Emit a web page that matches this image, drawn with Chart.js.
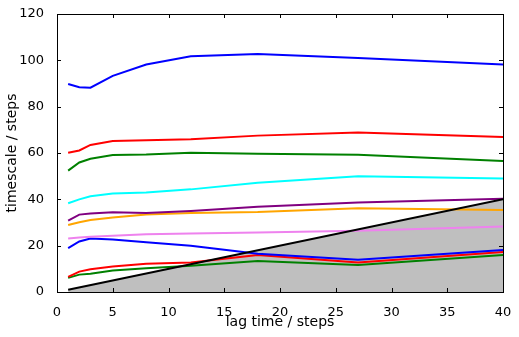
<!DOCTYPE html>
<html><head><meta charset="utf-8">
<script src="https://cdn.jsdelivr.net/npm/chart.js@4/dist/chart.umd.min.js"></script>
<style>html,body{margin:0;padding:0;background:#fff}#wrap{width:519px;height:337px}</style>
</head><body><div id="wrap"><canvas id="c" width="519" height="337"></canvas></div>
<script>
const lagTimes = [1, 2, 3, 5, 8, 12, 18, 27, 40];
const blueTop   = [89.8, 88.4, 88.2, 93.3, 98.2, 101.8, 102.7, 101.0, 98.2];
const redTop    = [60.1, 61.1, 63.5, 65.2, 65.5, 65.9, 67.5, 68.9, 66.9];
const greenTop  = [52.4, 55.9, 57.5, 59.1, 59.3, 60.1, 59.7, 59.2, 56.5];
const cyanLine  = [38.3, 40.0, 41.3, 42.5, 43.0, 44.3, 47.2, 50.0, 49.0];
const purpleLine= [30.8, 33.4, 33.9, 34.4, 34.1, 35.0, 36.8, 38.6, 40.2];
const orangeLine= [28.9, 30.1, 31.1, 32.2, 33.5, 34.1, 34.5, 36.1, 35.4];
const violetLine= [23.1, 23.5, 23.8, 24.3, 24.9, 25.2, 25.7, 26.4, 28.3];
const blueLow   = [18.9, 21.8, 23.1, 22.7, 21.5, 20.0, 16.5, 13.9, 18.1];
const redLow    = [6.5, 8.8, 9.8, 11.0, 12.2, 12.7, 16.0, 12.7, 17.3];
const greenLow  = [6.1, 7.5, 7.9, 9.3, 10.3, 11.3, 13.4, 11.7, 16.0];
const diagonal  = [1, 40];
const xTicks = [0, 5, 10, 15, 20, 25, 30, 35, 40];
const yTicks = [0, 20, 40, 60, 80, 100, 120];

const pts = (ys, xs) => ys.map((y, i) => ({x: (xs || lagTimes)[i], y}));
const line = (ys, color, xs) => ({data: pts(ys, xs), borderColor: color, borderWidth: 2, pointRadius: 0, fill: false, tension: 0});

const datasets = [
  line(diagonal, '#000000', diagonal),
  line(blueTop, '#0000ff'),
  line(redTop, '#ff0000'),
  line(greenTop, '#008000'),
  line(cyanLine, '#00ffff'),
  line(purpleLine, '#800080'),
  line(orangeLine, '#ffa500'),
  line(violetLine, '#ee82ee'),
  line(blueLow, '#0000ff'),
  line(redLow, '#ff0000'),
  line(greenLow, '#008000'),
  {data: pts(diagonal, diagonal), borderWidth: 0, borderColor: 'rgba(0,0,0,0)', backgroundColor: '#bfbfbf', pointRadius: 0, fill: 'origin'}
];

const frameTicks = {
  id: 'frameTicks',
  afterDraw(chart) {
    const {ctx, chartArea: a, scales: {x, y}} = chart;
    ctx.save();
    ctx.strokeStyle = '#000';
    ctx.lineWidth = 1;
    const L = 4;
    ctx.beginPath();
    xTicks.forEach(v => {
      const px = Math.round(x.getPixelForValue(v)) + 0.5;
      ctx.moveTo(px, a.bottom); ctx.lineTo(px, a.bottom - L);
      ctx.moveTo(px, a.top); ctx.lineTo(px, a.top + L);
    });
    yTicks.forEach(v => {
      const py = Math.round(y.getPixelForValue(v)) + 0.5;
      ctx.moveTo(a.left, py); ctx.lineTo(a.left + L, py);
      ctx.moveTo(a.right, py); ctx.lineTo(a.right - L, py);
    });
    ctx.stroke();
    ctx.strokeRect(Math.round(a.left) + 0.5, Math.round(a.top) + 0.5, Math.round(a.right - a.left), Math.round(a.bottom - a.top));
    ctx.restore();
  }
};

const font = {family: 'DejaVu Sans', size: 13};
const titleFont = {family: 'DejaVu Sans', size: 14};
new Chart(document.getElementById('c'), {
  type: 'line',
  data: {datasets},
  options: {
    responsive: false,
    animation: false,
    devicePixelRatio: 1,
    layout: {padding: {top: 14, right: 16, bottom: 0, left: 0}},
    plugins: {legend: {display: false}, tooltip: {enabled: false}},
    scales: {
      x: {
        type: 'linear', min: 0, max: 40,
        afterFit: s => { s.height = 45; },
        afterBuildTicks: s => { s.ticks = xTicks.map(v => ({value: v})); },
        grid: {display: false},
        border: {display: false},
        ticks: {font, color: '#000', padding: 5, maxRotation: 0},
        title: {display: true, text: 'lag time / steps', font: titleFont, color: '#000', padding: {top: 0, bottom: 6}}
      },
      y: {
        type: 'linear', min: 0, max: 120,
        afterFit: s => { s.width = 57; },
        afterBuildTicks: s => { s.ticks = yTicks.map(v => ({value: v})); },
        grid: {display: false},
        border: {display: false},
        ticks: {font, color: '#000', padding: 5},
        title: {display: true, text: 'timescale / steps', font: titleFont, color: '#000', padding: {top: 4, bottom: 0}}
      }
    }
  },
  plugins: [frameTicks]
});
</script></body></html>
